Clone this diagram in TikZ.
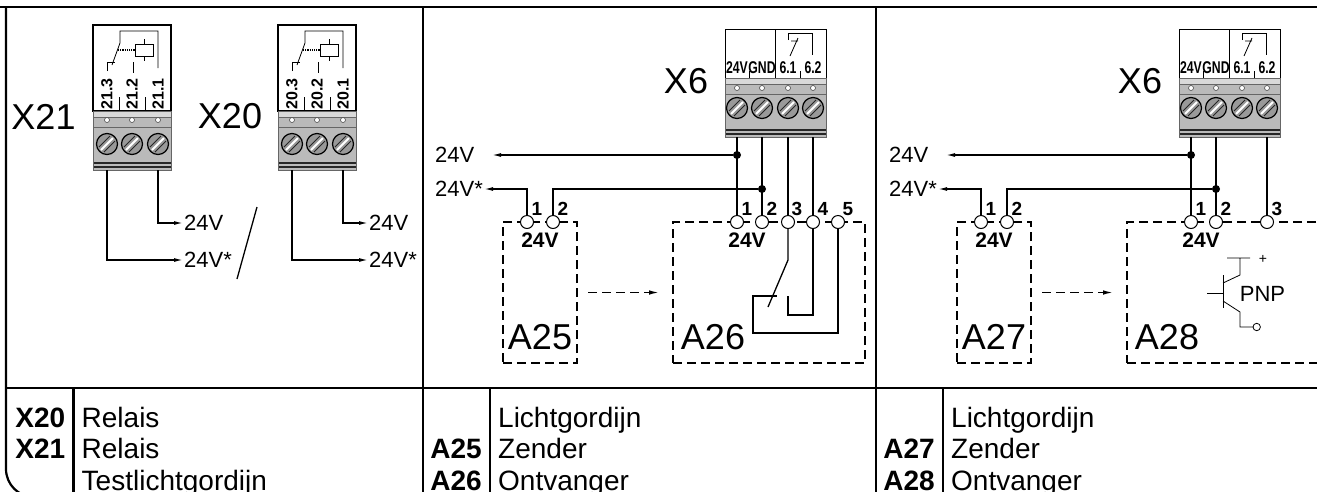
\documentclass[tikz,border=0pt]{standalone}
\usepackage{fontspec}
\setmainfont{Liberation Sans}
\usetikzlibrary{arrows.meta,positioning}

\tikzset{
  wire/.style={line width=1.3pt},
  feed/.style={wire,-{Latex[length=9pt,width=4pt]}},
  thinline/.style={line width=0.8pt},
  framel/.style={line width=2.2pt},
  unitbox/.style={draw,line width=1.7pt,dash pattern=on 9pt off 5pt,inner sep=0pt,outer sep=0pt},
  signal/.style={line width=1.7pt,dash pattern=on 9pt off 5pt,-{Latex[length=11pt,width=4.5pt]}},
  term/.style={circle,draw,fill=white,inner sep=0pt,minimum size=13pt,line width=1pt},
  jdot/.style={circle,fill,inner sep=0pt,minimum size=8pt},
  hole/.style={fill=white,draw=black!70,line width=0.6pt},
  bigname/.style={font=\fontsize{36}{40}\selectfont,inner sep=0pt},
  supply/.style={font=\fontsize{22}{24}\selectfont,inner sep=1pt},
  pinno/.style={font=\bfseries\fontsize{19}{20}\selectfont,inner sep=0pt},
  volt/.style={font=\bfseries\fontsize{21}{22}\selectfont,inner sep=0pt},
  pinlbl/.style={font=\bfseries\fontsize{16}{17}\selectfont,inner sep=0pt},
  plugtxt/.style={font=\bfseries\fontsize{17}{18}\selectfont,inner sep=0pt},
  cellkey/.style={font=\bfseries\fontsize{28}{30}\selectfont,inner sep=0pt,anchor=base east},
  celltext/.style={font=\fontsize{28}{30}\selectfont,inner sep=0pt,anchor=base west},
}

% grey terminal block under a plug: #1 left, #2 right, #3 top edge
\newcommand{\plugbody}[3]{
  \fill[black!27] (#1,#3) rectangle (#2,#3+59);
  \fill[black!15] (#1,#3) rectangle (#2,#3+6);
  \draw[black!60,line width=0.8pt] (#1,#3+6) -- (#2,#3+6) (#1,#3+16) -- (#2,#3+16);
  \draw[black!85,line width=1.3pt] (#1,#3+52) -- (#2,#3+52) (#1,#3+56) -- (#2,#3+56);
  \draw[black!60,line width=0.8pt] (#1,#3) rectangle (#2,#3+59);
}
% screw head: #1 x, #2 y
\newcommand{\screwhead}[2]{
  \fill[black!40] (#1,#2) circle (10.5);
  \draw[white,line width=2pt] (#1-6,#2+6) -- (#1+6,#2-6);
  \draw[black!85,line width=0.9pt] (#1-8,#2+3) -- (#1+3,#2-8) (#1-3,#2+8) -- (#1+8,#2-3);
  \draw[line width=1.2pt] (#1,#2) circle (10.5);
}
% relay plug X20/X21: #1 shift, #2 plug number
\newcommand{\relayplug}[2]{
  \begin{scope}[xshift=#1]
    \draw[line width=1.2pt,fill=white] (93,25) rectangle (171,111);
    \draw[thinline] (158,68) -- (158,31) -- (120,31) -- (120,43) -- (112,65);
    \draw[thinline] (107,71) -- (107,62) -- (115,62);
    \draw[thinline] (133,62) -- (133,73);
    \draw[line width=1.2pt,densely dotted] (118,50) -- (135,50);
    \draw[thinline] (135,44) rectangle (153,56);
    \draw[thinline] (144,39) -- (144,44) (144,56) -- (144,61);
    \draw[thinline] (119.5,97) -- (119.5,111) (145,97) -- (145,111);
    \foreach \px/\pn [count=\i] in {107/3,132/2,158/1}
      \node[pinlbl,rotate=90] (l#2\i) at (\px,94) {#2.\pn};
    \plugbody{93}{171}{111}
    \foreach \px in {107,132,158} {
      \draw[hole] (\px,120) circle (2.5);
      \screwhead{\px}{144}
    }
    \coordinate (r#2c) at (107,170);
    \coordinate (r#2a) at (158,170);
  \end{scope}
}
% plug X6: #1 shift, #2 tag for the pins
\newcommand{\xsixplug}[2]{
  \begin{scope}[xshift=#1]
    \draw[line width=0.9pt,fill=white] (725,29) rectangle (826,78);
    \draw[line width=0.9pt] (775,29) -- (775,78);
    \draw[thinline] (788,40) -- (788,33) -- (812,33) -- (812,55);
    \draw[thinline] (791,41) -- (798,41) (798,38) -- (790,56);
    \foreach \px/\tx [count=\i] in {737/24V,762/GND,788/6.1,813/6.2}
      \node[plugtxt] (k#2\i) at (\px,68) {\scalebox{0.72}[1]{\tx}};
    \draw[thinline] (749.5,71) -- (749.5,78) (800.5,71) -- (800.5,78);
    \plugbody{725}{826}{78}
    \foreach \px in {737,762,788,813} {
      \draw[hole] (\px,88) circle (2.5);
      \screwhead{\px}{108}
    }
    \foreach \px [count=\i] in {737,762,788,813}
      \coordinate (p#2\i) at (\px,137);
  \end{scope}
}

\begin{document}
\begin{tikzpicture}[x=1pt,y=-1pt]
  \useasboundingbox (0,0) rectangle (1317,491);
  \clip (0,0) rectangle (1317,491);

  % frame and table rules
  \draw[framel] (0,7) -- (1317,7);
  \draw[framel,rounded corners=28pt] (6,7) -- (6,497) -- (1340,497);
  \draw[framel] (6,388) -- (1317,388);
  \draw[framel] (423,7) -- (423,497) (876,7) -- (876,497);
  \draw[framel] (73.5,388) -- (73.5,497) (490,388) -- (490,497) (943,388) -- (943,497);

  % --- relays X21 / X20
  \relayplug{0}{21}
  \relayplug{185}{20}
  \node[bigname] (x21) at (43.5,116.5) {X21};
  \node[bigname] (x20) at (230,116.5) {X20};
  \node[supply,anchor=west] (s21a) at (183,223) {24V};
  \node[supply,anchor=west] (s21b) at (183,260) {24V*};
  \node[supply,anchor=west] (s20a) at (368,223) {24V};
  \node[supply,anchor=west] (s20b) at (368,260) {24V*};
  \draw[feed] (r21a) |- (s21a.west);
  \draw[feed] (r21c) |- (s21b.west);
  \draw[feed] (r20a) |- (s20a.west);
  \draw[feed] (r20c) |- (s20b.west);
  \draw[wire] (257,207) -- (237,279);

  % --- light curtain A25 / A26 on X6
  \xsixplug{0}{a}
  \node[bigname] (x6a) at (686,81) {X6};
  \node[unitbox,minimum width=74pt,minimum height=141pt] (a25) at (540,292.5) {};
  \node[unitbox,minimum width=192pt,minimum height=141pt] (a26) at (769,292.5) {};
  \draw[signal] ([xshift=11pt]a25.east) -- ([xshift=-13pt]a26.west);
  \node[jdot] (j26a) at (737,155) {};
  \node[jdot] (j26b) at (762,189) {};
  \draw[wire] (pa1) -- (737,222);
  \draw[wire] (pa2) -- (762,222);
  \draw[wire] (pa3) -- (788,222);
  \draw[wire] (pa4) -- (813,222);
  \node[term] (t25a) at (527,222) {};
  \node[term] (t25b) at (553,222) {};
  \foreach \px/\tn in {737/a,762/b,788/c,813/d,838/e}
    \node[term] (t26\tn) at (\px,222) {};
  \node[supply,anchor=west] (s26a) at (434,155) {24V};
  \node[supply,anchor=west] (s26b) at (434,189) {24V*};
  \coordinate (e26a) at (492,155);
  \draw[feed] (j26a) -- (e26a);
  \draw[feed] (t25a) |- (s26b.east);
  \draw[wire] (t25b) |- (j26b);
  \foreach \px/\tx [count=\i] in {537/1,563/2,747/1,772/2,797/3,823/4,848/5}
    \node[pinno] (n26\i) at (\px,209) {\tx};
  \node[volt] (v25) at (540,240.5) {24V};
  \node[volt] (v26) at (747,240.5) {24V};
  \node[bigname] (l25) at (540,337) {A25};
  \node[bigname] (l26) at (713,337) {A26};
  \draw[wire] (t26c) -- (788,260) -- (768,307);
  \draw[wire] (t26d) |- (788,315) -- (788,296);
  \draw[wire] (t26e) |- (753,333) |- (777,296);

  % --- light curtain A27 / A28 on X6
  \begin{scope}[xshift=454]
    \xsixplug{0}{b}
    \node[bigname] (x6b) at (686,81) {X6};
    \node[unitbox,minimum width=74pt,minimum height=141pt] (a27) at (540,292.5) {};
    \node[unitbox,minimum width=213pt,minimum height=141pt] (a28) at (779.5,292.5) {};
    \draw[signal] ([xshift=11pt]a27.east) -- ([xshift=-13pt]a28.west);
    \node[jdot] (j28a) at (737,155) {};
    \node[jdot] (j28b) at (762,189) {};
    \draw[wire] (pb1) -- (737,222);
    \draw[wire] (pb2) -- (762,222);
    \draw[wire] (pb4) -- (813,222);
    \node[term] (t27a) at (527,222) {};
    \node[term] (t27b) at (553,222) {};
    \node[term] (t28a) at (737,222) {};
    \node[term] (t28b) at (762,222) {};
    \node[term] (t28c) at (813,222) {};
    \node[supply,anchor=west] (s28a) at (434,155) {24V};
    \node[supply,anchor=west] (s28b) at (434,189) {24V*};
    \coordinate (e28a) at (492,155);
    \draw[feed] (j28a) -- (e28a);
    \draw[feed] (t27a) |- (s28b.east);
    \draw[wire] (t27b) |- (j28b);
    \foreach \px/\tx [count=\i] in {537/1,563/2,747/1,772/2,823/3}
      \node[pinno] (n28\i) at (\px,209) {\tx};
    \node[volt] (v27) at (540,240.5) {24V};
    \node[volt] (v28) at (747,240.5) {24V};
    \node[bigname] (l27) at (540,337) {A27};
    \node[bigname] (l28) at (713,337) {A28};
    % PNP output
    \draw[thinline] (773,258) -- (796,258) (786,258) -- (786,275) -- (769,283);
    \draw[line width=1pt] (769,275) -- (769,308);
    \draw[thinline] (753,293) -- (769,293);
    \draw[thinline] (769,301) -- (786,312) -- (786,327) -- (799,327);
    \draw[thinline,fill=white] (802.7,327) circle (3.7);
    \node[font=\fontsize{14}{14}\selectfont,inner sep=0pt] (pplus) at (809,259) {+};
    \node[supply] (pnp) at (808.5,294) {PNP};
  \end{scope}

  % --- legend
  \node[cellkey] (k20) at (65.5,427) {X20};
  \node[celltext] (c20) at (81.5,427) {Relais};
  \node[cellkey] (k21) at (65.5,458.5) {X21};
  \node[celltext] (c21) at (81.5,458.5) {Relais};
  \node[celltext] (ctl) at (81.5,490) {Testlichtgordijn};
  \node[celltext] (lg1) at (498,427) {Lichtgordijn};
  \node[cellkey] (k25) at (482,458.5) {A25};
  \node[celltext] (c25) at (498,458.5) {Zender};
  \node[cellkey] (k26) at (482,490) {A26};
  \node[celltext] (c26) at (498,490) {Ontvanger};
  \node[celltext] (lg2) at (951,427) {Lichtgordijn};
  \node[cellkey] (k27) at (935,458.5) {A27};
  \node[celltext] (c27) at (951,458.5) {Zender};
  \node[cellkey] (k28) at (935,490) {A28};
  \node[celltext] (c28) at (951,490) {Ontvanger};
\end{tikzpicture}
\end{document}
